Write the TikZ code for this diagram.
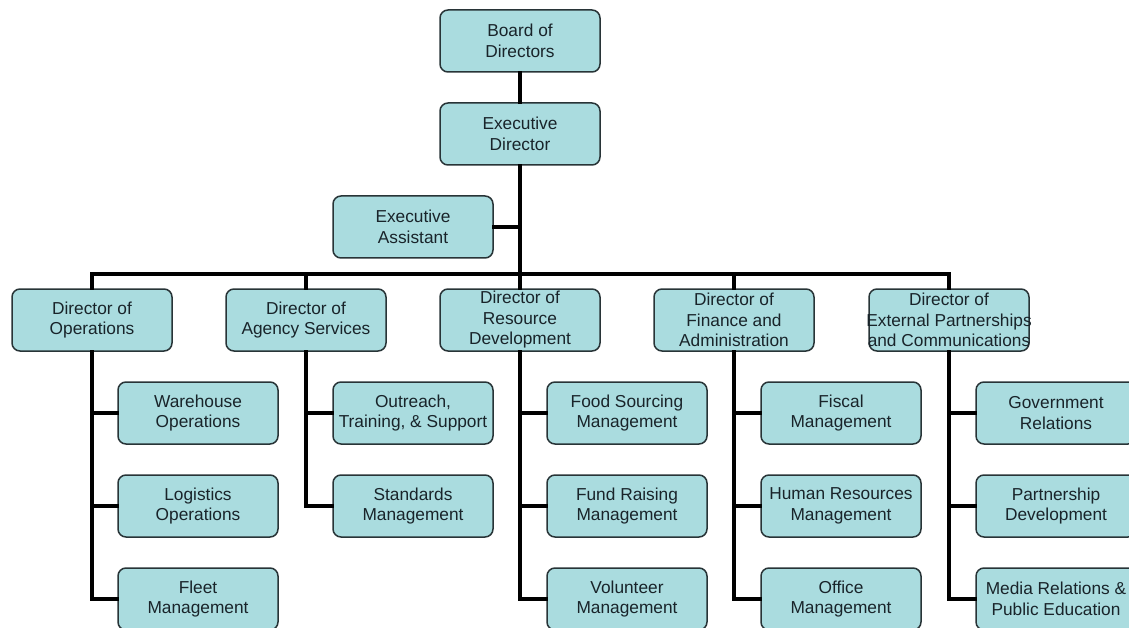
\documentclass[tikz,border=0pt]{standalone}
\usepackage{fontspec}
\setmainfont{Liberation Sans}
\definecolor{boxfill}{RGB}{170,220,223}
\definecolor{boxline}{RGB}{40,52,55}
\definecolor{boxtext}{RGB}{25,36,42}
\begin{document}
\begin{tikzpicture}[x=1pt,y=-1pt,
  orgbox/.style={draw=boxline,fill=boxfill,line width=1.5pt,rounded corners=8pt,
    minimum width=160pt,minimum height=62pt,inner xsep=0pt,inner ysep=2pt,align=center,
    text=boxtext,font=\fontsize{17.3}{20.5}\selectfont},
  link/.style={line width=4pt,black,line cap=rect}]
\useasboundingbox (0,0) rectangle (1129,628);
% top
\node[orgbox] (board) at (520,41) {Board of\\Directors};
\node[orgbox] (exec) at (520,134) {Executive\\Director};
\node[orgbox] (assist) at (413,227) {Executive\\Assistant};
% directors
\node[orgbox] (ops) at (92,320) {Director of\\Operations};
\node[orgbox] (agency) at (306,320) {Director of\\Agency Services};
\node[orgbox] (res) at (520,320) {Director of\\Resource\\Development};
\node[orgbox] (fin) at (734,320) {Director of\\Finance and\\Administration};
\node[orgbox] (ext) at (949,320) {Director of\\\makebox[156pt]{External Partnerships}\\\makebox[156pt]{and Communications}};
% children
\node[orgbox] (wh) at (198,413) {Warehouse\\Operations};
\node[orgbox] (log) at (198,506) {Logistics\\Operations};
\node[orgbox] (fleet) at (198,599) {Fleet\\Management};
\node[orgbox] (outr) at (413,413) {Outreach,\\Training, \& Support};
\node[orgbox] (std) at (413,506) {Standards\\Management};
\node[orgbox] (food) at (627,413) {Food Sourcing\\Management};
\node[orgbox] (fund) at (627,506) {Fund Raising\\Management};
\node[orgbox] (vol) at (627,599) {Volunteer\\Management};
\node[orgbox] (fisc) at (841,413) {Fiscal\\Management};
\node[orgbox] (hr) at (841,506) {Human Resources\\Management};
\node[orgbox] (off) at (841,599) {Office\\Management};
\node[orgbox] (gov) at (1056,413) {Government\\Relations};
\node[orgbox] (part) at (1056,506) {Partnership\\Development};
\node[orgbox] (media) at (1056,599) {Media Relations \&\\Public Education};
% connectors
\coordinate (bus) at (520,274);
\draw[link] (board.south) -- (exec.north);
\draw[link] (exec.south) -- (bus);
\draw[link] (assist.east) -- (assist.east -| exec.south);
\draw[link] (ops.north) -- (ops.north |- bus) -- (ext.north |- bus) -- (ext.north);
\draw[link] (agency.north) -- (agency.north |- bus);
\draw[link] (res.north) -- (bus);
\draw[link] (fin.north) -- (fin.north |- bus);
\draw[link] (ops.south) -- (ops.south |- fleet.west) -- (fleet.west);
\draw[link] (ops.south |- wh.west) -- (wh.west);
\draw[link] (ops.south |- log.west) -- (log.west);
\draw[link] (agency.south) -- (agency.south |- std.west) -- (std.west);
\draw[link] (agency.south |- outr.west) -- (outr.west);
\draw[link] (res.south) -- (res.south |- vol.west) -- (vol.west);
\draw[link] (res.south |- food.west) -- (food.west);
\draw[link] (res.south |- fund.west) -- (fund.west);
\draw[link] (fin.south) -- (fin.south |- off.west) -- (off.west);
\draw[link] (fin.south |- fisc.west) -- (fisc.west);
\draw[link] (fin.south |- hr.west) -- (hr.west);
\draw[link] (ext.south) -- (ext.south |- media.west) -- (media.west);
\draw[link] (ext.south |- gov.west) -- (gov.west);
\draw[link] (ext.south |- part.west) -- (part.west);
\end{tikzpicture}
\end{document}
